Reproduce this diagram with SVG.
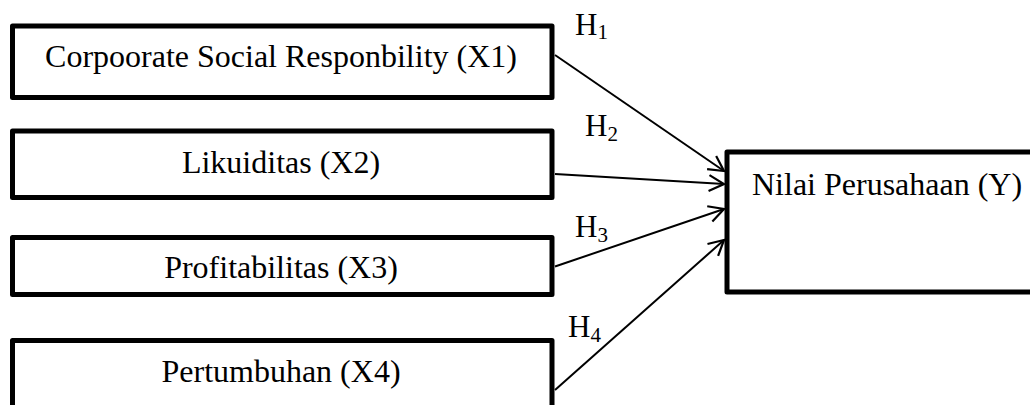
<svg xmlns="http://www.w3.org/2000/svg" width="1030" height="405" viewBox="0 0 1030 405">
  <style>
    .box { fill: #ffffff; stroke: #000000; stroke-width: 5; stroke-linejoin: round; }
    .label { font-family: "Liberation Serif", "Times New Roman", serif; font-size: 32px; fill: #000000; }
    .hyp { font-family: "Liberation Serif", "Times New Roman", serif; font-size: 31px; fill: #000000; }
    .sub { font-size: 21px; }
    .link { stroke: #000000; stroke-width: 2; fill: none; marker-end: url(#open-arrow); }
  </style>
  <defs>
    <marker id="open-arrow" markerUnits="userSpaceOnUse" markerWidth="24" markerHeight="24" viewBox="-18 -12 24 24" refX="0" refY="0" orient="auto">
      <path d="M -15 -8 L 0 0 L -15 8" fill="none" stroke="#000000" stroke-width="2.2" stroke-linejoin="miter"/>
    </marker>
  </defs>
  <rect width="1030" height="405" fill="#ffffff"/>

  <!-- independent variables -->
  <g id="x1">
    <rect class="box" x="12.5" y="26" width="539.5" height="71.5"/>
    <text class="label" x="281" y="67" text-anchor="middle">Corpoorate Social Responbility (X1)</text>
  </g>
  <g id="x2">
    <rect class="box" x="12.5" y="131" width="539.5" height="66.5"/>
    <text class="label" x="281" y="173" text-anchor="middle">Likuiditas (X2)</text>
  </g>
  <g id="x3">
    <rect class="box" x="12.5" y="237.5" width="539.5" height="57"/>
    <text class="label" x="281" y="278" text-anchor="middle">Profitabilitas (X3)</text>
  </g>
  <g id="x4">
    <rect class="box" x="12.5" y="340.5" width="539.5" height="90"/>
    <text class="label" x="281" y="382" text-anchor="middle">Pertumbuhan (X4)</text>
  </g>

  <!-- dependent variable -->
  <g id="y">
    <rect class="box" x="727" y="152" width="330" height="140"/>
    <text class="label" x="752" y="195">Nilai Perusahaan (Y)</text>
  </g>

  <!-- hypothesis paths -->
  <g id="connectors">
    <line class="link" x1="555" y1="55" x2="724" y2="171"/>
    <line class="link" x1="555" y1="174" x2="724" y2="184"/>
    <line class="link" x1="555" y1="266.5" x2="724" y2="209"/>
    <line class="link" x1="555" y1="390" x2="724" y2="240"/>
  </g>

  <g id="hypotheses">
    <text class="hyp" x="575" y="35">H<tspan class="sub" dy="4">1</tspan></text>
    <text class="hyp" x="585" y="136">H<tspan class="sub" dy="4.5">2</tspan></text>
    <text class="hyp" x="575" y="237">H<tspan class="sub" dy="4.5">3</tspan></text>
    <text class="hyp" x="568" y="337">H<tspan class="sub" dy="4.5">4</tspan></text>
  </g>
</svg>
